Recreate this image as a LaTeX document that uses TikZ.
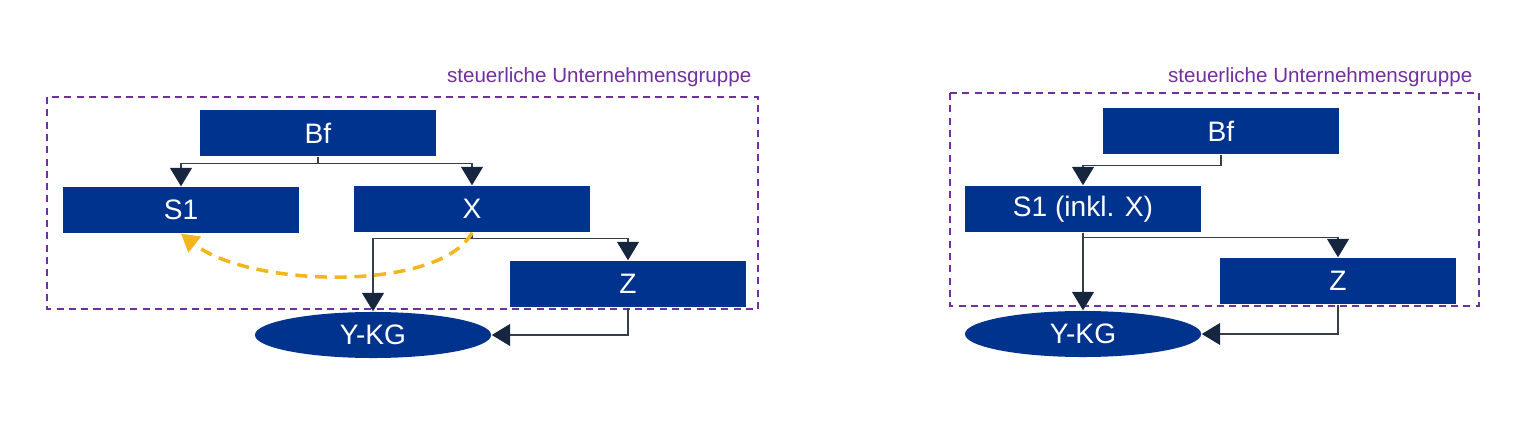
\documentclass[tikz,border=0pt]{standalone}
\usepackage{fontspec}
\setmainfont{Liberation Sans}
\usetikzlibrary{arrows.meta, shapes.geometric, positioning}
\definecolor{entityblue}{RGB}{0,51,141}
\definecolor{grouppurple}{RGB}{112,48,160}
\definecolor{transferyellow}{RGB}{242,182,30}
\definecolor{tipnavy}{RGB}{22,38,62}
\definecolor{linegray}{RGB}{55,62,75}
\tikzstyle{company} = [rectangle, text centered, fill=entityblue, text=white, minimum width=2.35cm, minimum height=0.46cm, inner sep=0pt, font=\fontsize{8}{9.5}\selectfont]
\tikzstyle{partnership} = [ellipse, text centered, fill=entityblue, text=white, minimum width=2.36cm, minimum height=0.46cm, inner sep=0pt, font=\fontsize{8}{9.5}\selectfont]
\tikzstyle{group_border} = [grouppurple, line width=0.6pt, dash pattern=on 2pt off 1.5pt]
\tikzstyle{group_label} = [grouppurple, inner sep=0pt, anchor=east, font=\fontsize{5.85}{7}\selectfont]
\tikzstyle{ownership} = [linegray, line width=0.3pt, -{Triangle[length=5.2pt, width=6.2pt, fill=tipnavy, color=tipnavy]}]
\tikzstyle{transfer} = [transferyellow, line width=1pt, dash pattern=on 3.4pt off 2.2pt, -{Triangle[length=5pt, width=5.6pt]}]

\begin{document}
\begin{tikzpicture}[x=0.01cm, y=-0.01cm]

    \useasboundingbox (0,0) rectangle (1537,440);

    % left: before
    \node (bf) [company] at (318,133) {Bf};
    \node (sone) [company] at (181,210) {S1};
    \node (x) [company] at (472,209) {X};
    \node (z) [company] at (628,284) {Z};
    \node (ykg) [partnership] at (373,335) {Y-KG};

    \draw [group_border] (47,97) rectangle (758,309);
    \node (label) [group_label] at (752,77) {steuerliche Unternehmensgruppe};

    \draw [ownership] (bf.south) -- ++(0,7) -| (sone.north);
    \draw [ownership] (bf.south) -- ++(0,7) -| (x.north);
    \draw [ownership] (x.south) -- ++(0,6) -| (ykg.north);
    \draw [ownership] (x.south) -- ++(0,6) -| (z.north);
    \draw [ownership] (z.south) |- (ykg.east);

    \draw [transfer] (x.south) .. controls (440,292) and (250,288) .. (sone.south);

    % right: after
    \node (bf2) [company] at (1221,131) {Bf};
    \node (sonex) [company] at (1083,209) {S1 (inkl. X)};
    \node (z2) [company] at (1338,281) {Z};
    \node (ykg2) [partnership] at (1083,334) {Y-KG};

    \draw [group_border] (950,93) rectangle (1479,306);
    \node (label2) [group_label] at (1473,77) {steuerliche Unternehmensgruppe};

    \draw [ownership] (bf2.south) -- ++(0,11) -| (sonex.north);
    \draw [ownership] (sonex.south) -- (ykg2.north);
    \draw [ownership] (sonex.south) -- ++(0,5) -| (z2.north);
    \draw [ownership] (z2.south) |- (ykg2.east);

\end{tikzpicture}
\end{document}
